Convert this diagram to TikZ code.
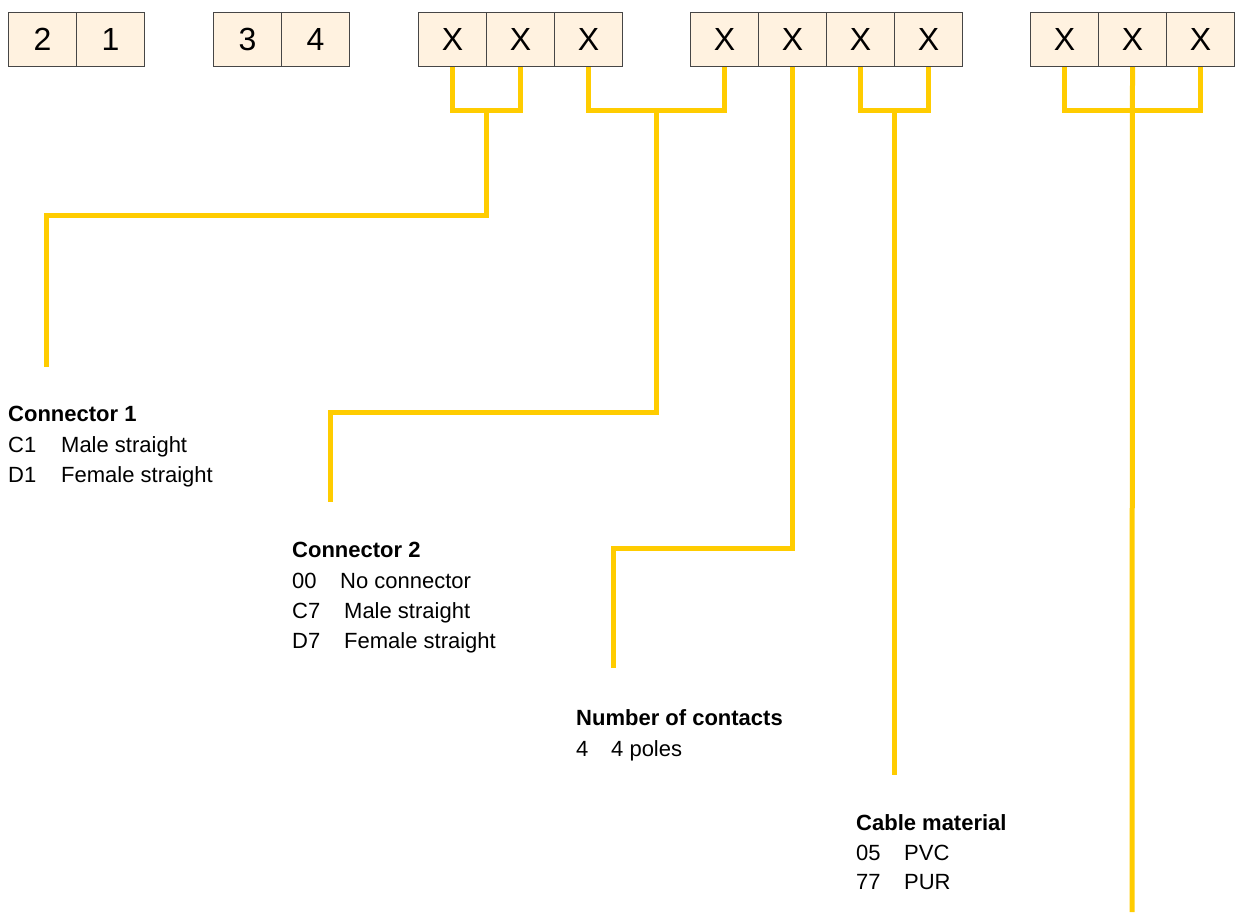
\documentclass[tikz,border=0pt]{standalone}
\usepackage{fontspec}
\setmainfont{Liberation Sans}
\usetikzlibrary{positioning}
\definecolor{leadyellow}{RGB}{255,204,0}
\definecolor{boxcream}{RGB}{255,242,224}
\definecolor{boxedge}{RGB}{70,70,70}
\newcommand{\codecol}[3]{\makebox[#1][l]{#2}#3}
\tikzset{
  every node/.style={
    inner sep=0pt
  },
  digit/.style={
    draw=boxedge,
    line width=1pt,
    fill=boxcream,
    minimum width=68pt,
    minimum height=54pt,
    anchor=north west,
    font=\fontsize{32}{32}\selectfont
  },
  leader/.style={
    leadyellow,
    line width=5pt
  },
  head/.style={
    anchor=base west,
    font=\fontsize{22}{26}\selectfont\bfseries
  },
  item/.style={
    anchor=base west,
    font=\fontsize{22}{26}\selectfont
  }
}

\begin{document}
\begin{tikzpicture}[x=1pt,y=-1pt]
\useasboundingbox (0,0) rectangle (1235,914);
% code boxes
\foreach \d [count=\i] in {2,1} {
\node[digit] (a\i) at ({8+68*(\i-1)},12) {\d};
}
\foreach \d [count=\i] in {3,4} {
\node[digit] (b\i) at ({213+68*(\i-1)},12) {\d};
}
\foreach \i in {1,...,3} {
\node[digit] (x\i) at ({418+68*(\i-1)},12) {X};
}
\foreach \i in {1,...,4} {
\node[digit] (y\i) at ({690+68*(\i-1)},12) {X};
}
\foreach \i in {1,...,3} {
\node[digit] (z\i) at ({1030+68*(\i-1)},12) {X};
}
% bends and free ends
\coordinate (j1) at (486,110);
\coordinate (k1) at (46,215);
\coordinate (e1) at (46,367);
\coordinate (j2) at (656,110);
\coordinate (k2) at (330,412);
\coordinate (e2) at (330,502);
\coordinate (k3) at (613,548);
\coordinate (e3) at (613,668);
\coordinate (j4) at (894,110);
\coordinate (e4) at (894,775);
\coordinate (j5) at (1132,110);
\coordinate (e5) at (1132,912);
% leaders
\draw[leader] (x1.south) |- (j1) -| (x2.south);
\draw[leader] (j1) |- (k1) -- (e1);
\draw[leader] (x3.south) |- (j2) -| (y1.south);
\draw[leader] (j2) |- (k2) -- (e2);
\draw[leader] (y2.south) |- (k3) -- (e3);
\draw[leader] (y3.south) |- (j4) -| (y4.south);
\draw[leader] (j4) -- (e4);
\draw[leader] (z1.south) |- (j5) -| (z3.south);
\draw[leader] (z2.south) -- (e5);
% legends
\node[head] (con1) at (8,421) {Connector 1};
\node[item] (con1a) at (8,452) {\codecol{53pt}{C1}{Male straight}};
\node[item] (con1b) at (8,482) {\codecol{53pt}{D1}{Female straight}};
\node[head] (con2) at (292,557) {Connector 2};
\node[item] (con2a) at (292,588) {\codecol{48pt}{00}{No connector}};
\node[item] (con2b) at (292,618) {\codecol{52pt}{C7}{Male straight}};
\node[item] (con2c) at (292,648) {\codecol{52pt}{D7}{Female straight}};
\node[head] (cont) at (576,725) {Number of contacts};
\node[item] (conta) at (576,756) {\codecol{35pt}{4}{4 poles}};
\node[head] (cab) at (856,830) {Cable material};
\node[item] (caba) at (856,860) {\codecol{48pt}{05}{PVC}};
\node[item] (cabb) at (856,889) {\codecol{48pt}{77}{PUR}};
\end{tikzpicture}
\end{document}
